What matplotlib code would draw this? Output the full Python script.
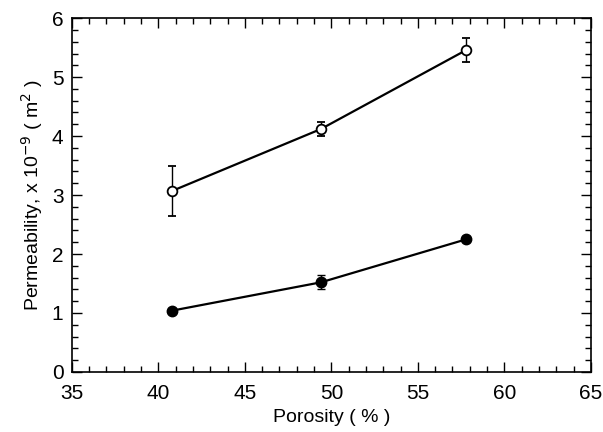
import numpy as np
import matplotlib
matplotlib.use('Agg')
import matplotlib.pyplot as plt
from matplotlib.ticker import MultipleLocator

plt.rcParams['font.family'] = ['Liberation Sans', 'DejaVu Sans']

# Datos
porosidad = [40.8, 49.4, 57.8]
perm_abierto = [3.07, 4.12, 5.46]
err_abierto = [0.42, 0.12, 0.21]
perm_lleno = [1.04, 1.52, 2.25]
err_lleno = [0.04, 0.12, 0.05]

fig = plt.figure(figsize=(6.03, 4.32), dpi=100)
ax = fig.add_axes([0.119, 0.139, 0.861, 0.819])

ax.errorbar(porosidad, perm_abierto, yerr=err_abierto, color='black', lw=1.6,
            marker='o', ms=7, mfc='white', mec='black', mew=1.3,
            elinewidth=1.0, capsize=3, capthick=1.0)
ax.errorbar(porosidad, perm_lleno, yerr=err_lleno, color='black', lw=1.6,
            marker='o', ms=7.5, mfc='black', mec='black',
            elinewidth=1.0, capsize=3, capthick=1.0)

ax.set_xlim(35, 65)
ax.set_ylim(0, 6)
ax.xaxis.set_major_locator(MultipleLocator(5))
ax.xaxis.set_minor_locator(MultipleLocator(1))
ax.yaxis.set_major_locator(MultipleLocator(1))
ax.yaxis.set_minor_locator(MultipleLocator(0.2))
ax.tick_params(which='both', direction='in', top=True, right=True, width=1.0)
ax.tick_params(which='major', length=7, labelsize=15)
ax.tick_params(axis='x', which='major', pad=9)
ax.tick_params(axis='y', which='major', pad=6)
ax.tick_params(which='minor', length=4)
for s in ax.spines.values():
    s.set_linewidth(1.2)

ax.set_xlabel('Porosity ( % )', fontsize=14, labelpad=4)
ax.set_ylabel('Permeability, x 10$^{-9}$ ( m$^2$ )', fontsize=14, labelpad=5)

plt.savefig('out.png', dpi=100)
